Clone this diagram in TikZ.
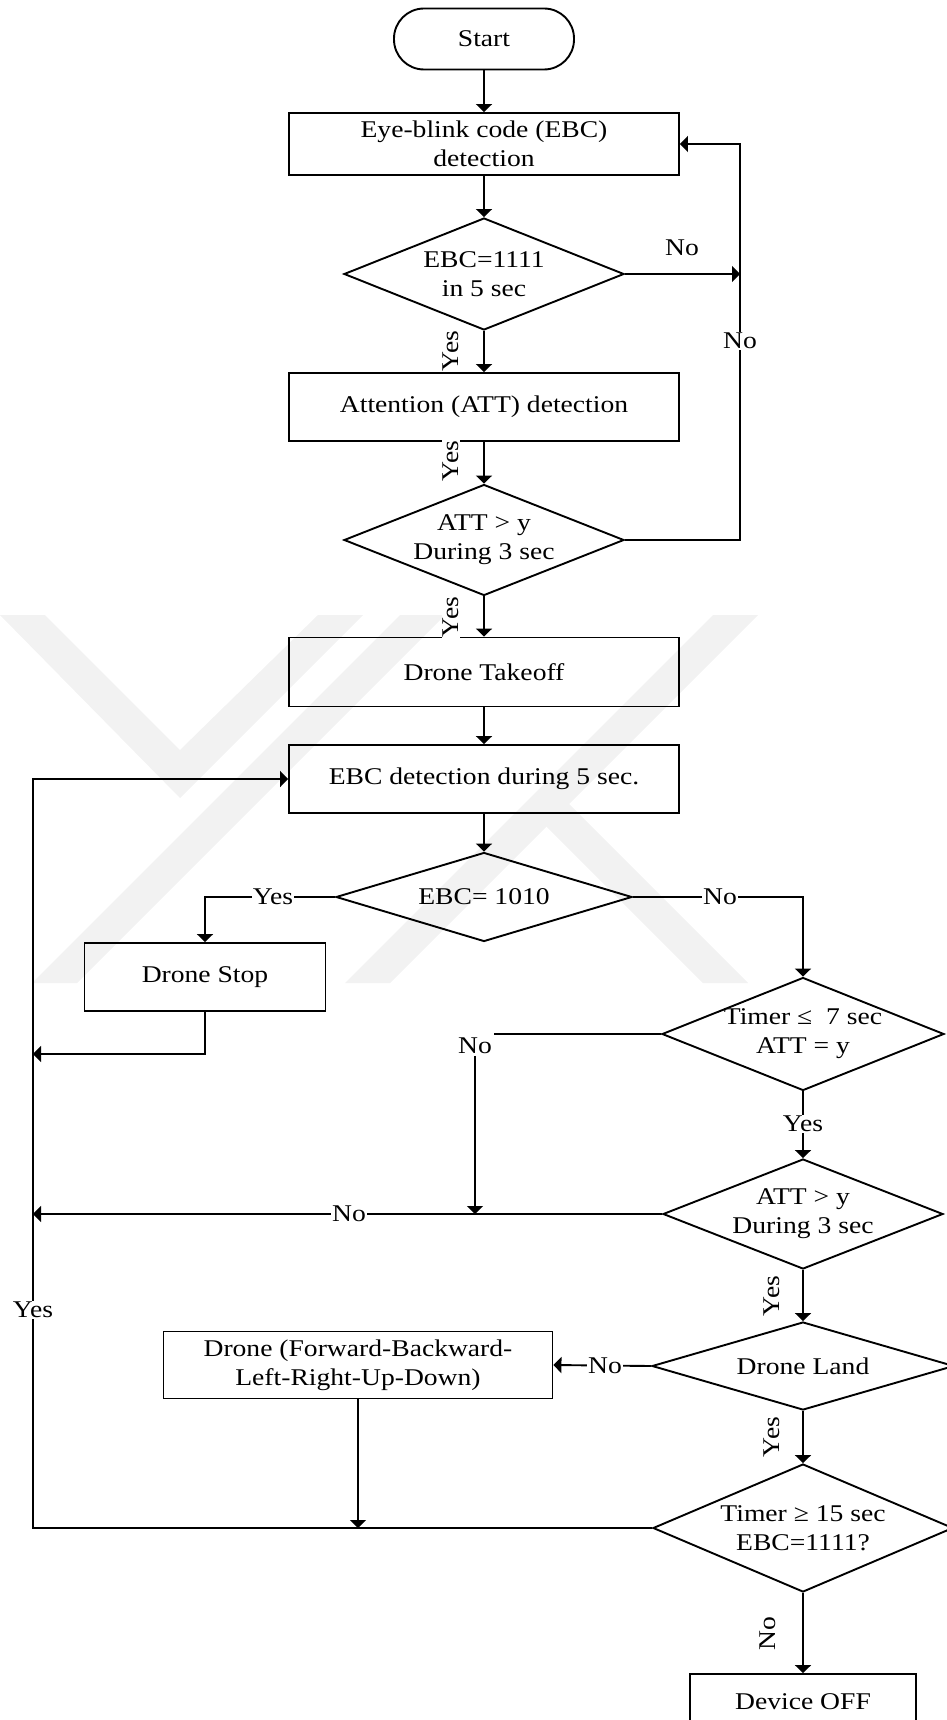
\documentclass[tikz,border=0pt]{standalone}
\usepackage{fontspec}
\setmainfont{Liberation Serif}[FakeStretch=1.15]
\usetikzlibrary{arrows.meta,shapes.geometric}

\begin{document}
\begin{tikzpicture}[x=1pt,y=-1pt,
  line width=1.9pt,
  every node/.style={font=\fontsize{24}{29}\selectfont},
  flow/.style={-{Triangle[width=16pt,length=8pt]}},
  procbox/.style={draw, minimum width=390pt, minimum height=62pt, align=center, inner sep=0pt},
  dia/.style={draw, diamond, inner sep=0pt},
  tag/.style={fill=white, inner sep=1pt},
  vtag/.style={fill=white, inner sep=1pt, rotate=90},
  mark band/.style={fill=black!5, draw=none},
]
\useasboundingbox (0,0) rectangle (946,1720);

% ---- faint background emblem ----
\begin{scope}
  \clip (0,615) rectangle (946,983);
  \fill[mark band] (0,615) -- (45,615) -- (180,750) -- (318,615) -- (363,615) -- (180,798) -- cycle;
  \fill[mark band] (400,615) -- (445,615) -- (77,983) -- (32,983) -- cycle;
  \fill[mark band] (713,615) -- (758,615) -- (390,983) -- (345,983) -- cycle;
  \fill[mark band] (548,783) -- (748,983) -- (703,983) -- (525,805) -- cycle;
\end{scope}

% ---- main column ----
\node[draw, rounded corners=30pt, minimum width=180pt, minimum height=61pt] (start) at (484,39) {Start};
\node[procbox] (box1) at (484,144) {Eye-blink code (EBC)\\detection};
\node[dia, minimum width=280pt, minimum height=112pt,
      label={[align=center]center:EBC=1111\\in 5 sec}] (d1) at (484,274) {};
\node[procbox, minimum height=68pt] (box2) at (484,407) {Attention (ATT) detection};
\node[dia, minimum width=280pt, minimum height=111pt,
      label={[align=center]center:ATT > y\\During 3 sec}] (d2) at (484,540) {};
\node[procbox, minimum height=69pt] (box3) at (484,672) {Drone Takeoff};
\node[procbox, minimum height=68pt] (box4) at (484,779) {EBC detection during 5 sec.};
\node[dia, minimum width=296pt, minimum height=89pt,
      label={center:EBC= 1010}] (d3) at (484,897) {};

% ---- left branch ----
\node[procbox, minimum width=241pt, minimum height=68pt] (ds) at (205,977) {Drone Stop};

% ---- right column ----
\node[dia, minimum width=282pt, minimum height=113pt,
      label={[align=center]center:Timer ≤~~7 sec\\ATT = y}] (d4) at (803,1034) {};
\node[dia, minimum width=280pt, minimum height=110pt,
      label={[align=center]center:ATT > y\\During 3 sec}] (d5) at (803,1214) {};
\node[dia, minimum width=302pt, minimum height=88pt,
      label={center:Drone Land}] (d6) at (803,1366) {};
\node[procbox, minimum width=389pt, minimum height=67pt] (dfb) at (358,1365)
      {Drone (Forward-Backward-\\Left-Right-Up-Down)};
\node[dia, minimum width=300pt, minimum height=128pt,
      label={[align=center]center:Timer ≥ 15 sec\\EBC=1111?}] (d7) at (803,1528) {};
\node[procbox, minimum width=226pt, minimum height=56pt] (off) at (803,1702) {Device OFF};

% ---- return line positions ----
\coordinate (rr) at (740,0);
\coordinate (ll) at (33,0);
\coordinate (dsret) at (33,1054);

% ---- connectors ----
\draw[flow] (start) -- (box1);
\draw[flow] (box1) -- (d1);
\draw[flow] (d1) -- (box2);
\draw[flow] (box2) -- (d2);
\draw[flow] (d2) -- (box3);
\draw[flow] (box3) -- (box4);
\draw[flow] (box4) -- (d3);
\draw[flow] (d1.east) -- (d1.east -| rr);
\draw[flow] (d2.east) -| (rr |- box1.east) -- (box1.east);
\draw[flow] (d3.west) -| (ds.north);
\draw[flow] (d3.east) -| (d4.north);
\draw[flow] (ds.south) |- (dsret);
\draw[flow] (d4) -- (d5);
\draw[flow] (d5.west) -- (d5.west -| ll);
\draw[flow] (d5) -- (d6);
\draw[flow] (d6.west) -- (dfb.east);
\draw[flow] (d6) -- (d7);
\draw[flow] (dfb.south) -- (dfb.south |- d7.west);
\draw[flow] (d7.west) -| (ll |- box4.west) -- (box4.west);
\draw[flow] (d7) -- (off);

% ---- branch labels ----
\node (no1) at (682,248) {No};
\node[tag] (no2) at (740,341) {No};
\node[vtag] (yes1) at (451,351) {Yes};
\node[vtag] (yes2) at (451,461) {Yes};
\node[vtag] (yes3) at (451,617) {Yes};
\node[tag] (yes4) at (273,897) {Yes};
\node[tag] (no3) at (720,897) {No};
\node[tag] (no4) at (475,1046) {No};
\draw (d4.west) -- (no4.east |- d4.west);
\draw[flow] (no4.south) -- (no4.south |- d5.west);
\node[tag] (yes5) at (803,1124) {Yes};
\node[tag] (no5) at (349,1214) {No};
\node[vtag] (yes6) at (772,1296) {Yes};
\node[tag] (no6) at (605,1366) {No};
\node[vtag] (yes7) at (772,1437) {Yes};
\node[tag] (yes8) at (33,1310) {Yes};
\node[vtag] (no7) at (768,1634) {No};
\end{tikzpicture}
\end{document}
